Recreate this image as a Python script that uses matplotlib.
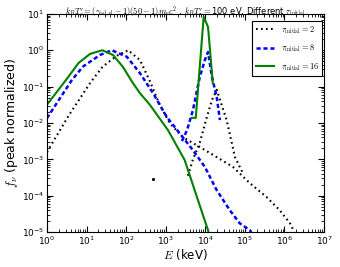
import numpy as np
import matplotlib
matplotlib.use('Agg')
import matplotlib.pyplot as plt

plt.rcParams.update({'font.size': 6.5,
                     'lines.scale_dashes': False,
                     'xtick.direction': 'in', 'ytick.direction': 'in',
                     'xtick.top': True, 'ytick.right': True})

# log10 E (keV), log10 f_nu
tau2_x = [0, 0.56, 1.11, 1.41, 1.77, 2.05, 2.35, 2.6, 2.85, 3.1, 3.43, 3.86, 4.29, 4.7, 5.13, 5.55, 5.88, 6.14, 6.19, 6.25]
tau2_y = [-2.8, -1.78, -0.87, -0.45, -0.15, 0, -0.27, -0.85, -1.5, -2.0, -2.39, -2.66, -2.94, -3.21, -3.66, -4.04, -4.4, -4.76, -4.85, -5.1]
tau2_spike_x = [3.56, 3.69, 3.86, 4.04, 4.17, 4.29, 4.54, 4.75, 4.95]
tau2_spike_y = [-3.45, -3.0, -2.55, -1.84, -1.37, -1.09, -1.92, -2.94, -3.38]
tau2_dot_x = [2.68]
tau2_dot_y = [-3.55]

tau8_x = [0, 0.63, 0.91, 1.34, 1.64, 2.02, 2.35, 2.68, 3.03, 3.43, 3.69, 3.99, 4.29, 4.62, 4.87, 5.13, 5.25]
tau8_y = [-1.87, -0.82, -0.45, -0.13, 0, -0.18, -0.63, -1.18, -1.84, -2.39, -2.75, -3.21, -3.85, -4.4, -4.76, -4.95, -5.2]
tau8_spike_x = [3.41, 3.54, 3.69, 3.86, 3.99, 4.07, 4.17, 4.29, 4.37]
tau8_spike_y = [-2.5, -2.2, -1.64, -0.74, -0.27, -0.05, -0.74, -1.29, -1.92]

tau16_x = [0, 0.48, 0.8, 1.09, 1.4, 1.67, 1.92, 2.17, 2.35, 2.6, 3.06, 3.48, 3.79, 4.07, 4.15]
tau16_y = [-1.5, -0.82, -0.35, -0.1, 0, -0.13, -0.46, -0.9, -1.18, -1.5, -2.2, -3.02, -4.04, -4.95, -5.3]
tau16_spike_x = [3.66, 3.76, 3.96, 4.07, 4.19]
tau16_spike_y = [-1.86, -1.86, 0.92, 0.64, -0.9]

def p(a):
    return 10 ** np.array(a)

fig = plt.figure(figsize=(3.4, 2.67), dpi=100)
ax = fig.add_axes([0.138, 0.131, 0.815, 0.817])

dots = (1.2, 2.4)
dash = (3.0, 2.0)
ax.plot(p(tau2_x), p(tau2_y), color='k', lw=1.5, dashes=dots, label=r'$\tau_{\rm initial}=2$')
ax.plot(p(tau2_spike_x), p(tau2_spike_y), color='k', lw=1.5, dashes=dots)
ax.plot(p(tau2_dot_x), p(tau2_dot_y), '.', color='k', ms=2.5)
ax.plot(p(tau8_x), p(tau8_y), color='b', lw=1.8, dashes=dash, label=r'$\tau_{\rm initial}=8$')
ax.plot(p(tau8_spike_x), p(tau8_spike_y), color='b', lw=1.8, dashes=dash)
ax.plot(p(tau16_x), p(tau16_y), '-', color='g', lw=1.5, label=r'$\tau_{\rm initial}=16$')
ax.plot(p(tau16_spike_x), p(tau16_spike_y), '-', color='g', lw=1.5)

ax.set_xscale('log')
ax.set_yscale('log')
ax.set_xlim(1, 1e7)
ax.set_ylim(1e-5, 10)
ax.xaxis.set_major_locator(matplotlib.ticker.LogLocator(base=10, numticks=10))
ax.xaxis.set_minor_locator(matplotlib.ticker.LogLocator(base=10, subs=np.arange(2, 10), numticks=10))
ax.tick_params(which='major', length=4, pad=2)
ax.tick_params(which='minor', length=2)

ax.set_xlabel(r'$E$ (keV)', fontsize=8.5, math_fontfamily='cm', labelpad=0)
ax.set_ylabel(r'$f_\nu$ (peak normalized)', fontsize=9, math_fontfamily='cm', labelpad=1)
ax.set_title(r"$k_BT_e^\prime=(\gamma_{\rm ad,el}-1)(50-1)m_ec^2$ , $k_BT_\gamma^\prime=$100 eV, Different $\tau_{\rm initial}$",
             fontsize=6, math_fontfamily='cm', y=1.0, pad=0)

leg = ax.legend(loc='upper right', bbox_to_anchor=(1.0, 0.975),
                prop={'math_fontfamily': 'cm', 'size': 6},
                fancybox=False, edgecolor='k', framealpha=1, borderaxespad=0.2,
                handlelength=2.2, labelspacing=0.85)
leg.get_frame().set_linewidth(0.8)

fig.savefig('out.png', dpi=100)
